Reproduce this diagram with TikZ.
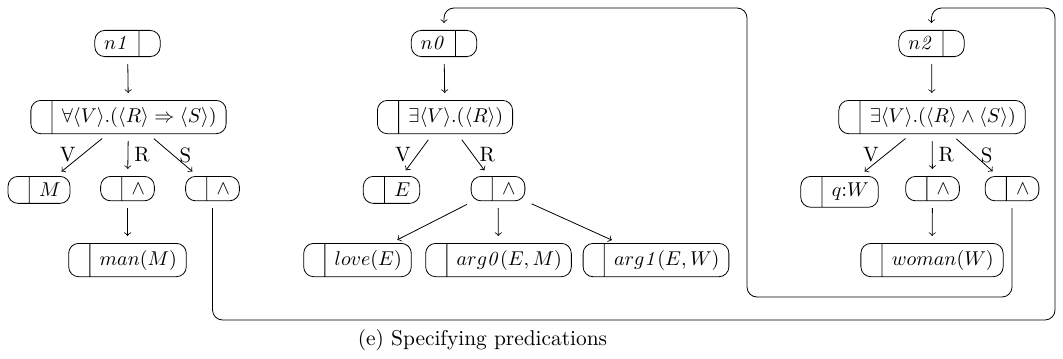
\documentclass[tikz,border=0pt]{standalone}
\usetikzlibrary{shapes.multipart}
\newcommand{\emptypart}{\makebox[1pt]{}}
\tikzset{
  split/.style={draw, rectangle split, rectangle split horizontal, rectangle split parts=2,
    rounded corners=5pt, inner xsep=4.7pt, inner ysep=3.33pt,
    font=\fontsize{10.4pt}{12pt}\selectfont},
  arr/.style={->, shorten <=3.5pt, shorten >=3.5pt},
  loop/.style={->, rounded corners=5pt, shorten <=3.5pt, shorten >=3.5pt},
  lab/.style={inner sep=3pt, font=\fontsize{10.4pt}{12pt}\selectfont}
}
\begin{document}
\begin{tikzpicture}[x=0.5pt,y=-0.5pt]
\useasboundingbox (0,0) rectangle (1063,358);
% left tree
\node[split, anchor=north] (n1) at (127.5,30) {$n\mathit{1}$\nodepart{two}\emptypart};
\node[split, anchor=north] (F1) at (128.5,100) {\emptypart\nodepart{two}$\forall\langle V\rangle.(\langle R\rangle \Rightarrow \langle S\rangle)$};
\node[split, anchor=north] (M) at (39,176) {\emptypart\nodepart{two}$M$};
\node[split, anchor=north] (aR1) at (127.5,176) {\emptypart\nodepart{two}$\wedge$};
\node[split, anchor=north] (aS1) at (212.5,176) {\emptypart\nodepart{two}$\wedge$};
\node[split, anchor=north] (man) at (127.5,243) {\emptypart\nodepart{two}$man(M)$};
\draw[arr] (n1) -- (F1);
\draw[arr] (F1) -- node[midway,left,lab] {V} (M);
\draw[arr] (F1) -- node[midway,right,lab] {R} (aR1);
\draw[arr] (F1) -- node[midway,right,lab] {S} (aS1);
\draw[arr] (aR1) -- (man);
% middle tree
\node[split, anchor=north] (n0) at (444,30) {$n\mathit{0}$\nodepart{two}\emptypart};
\node[split, anchor=north] (F0) at (445,100) {\emptypart\nodepart{two}$\exists\langle V\rangle.(\langle R\rangle)$};
\node[split, anchor=north] (E) at (391.5,176) {\emptypart\nodepart{two}$E$};
\node[split, anchor=north] (aR0) at (498,176) {\emptypart\nodepart{two}$\wedge$};
\node[split, anchor=north] (love) at (357.5,243) {\emptypart\nodepart{two}$love(E)$};
\node[split, anchor=north] (argz) at (498.5,243) {\emptypart\nodepart{two}$arg\mathit{0}(E,M)$};
\node[split, anchor=north] (argo) at (656,243) {\emptypart\nodepart{two}$arg\mathit{1}(E,W)$};
\draw[arr] (n0) -- (F0);
\draw[arr] (F0) -- node[midway,left,lab] {V} (E);
\draw[arr] (F0) -- node[midway,right,lab] {R} (aR0);
\draw[arr] (aR0) -- (love);
\draw[arr] (aR0) -- (argz);
\draw[arr] (aR0) -- (argo);
% right tree
\node[split, anchor=north] (n2) at (931.5,30) {$n\mathit{2}$\nodepart{two}\emptypart};
\node[split, anchor=north] (F2) at (932,100) {\emptypart\nodepart{two}$\exists\langle V\rangle.(\langle R\rangle \wedge \langle S\rangle)$};
\node[split, anchor=north] (qW) at (839.5,176) {\emptypart\nodepart{two}$q$:$W$};
\node[split, anchor=north] (aR2) at (932.5,176) {\emptypart\nodepart{two}$\wedge$};
\node[split, anchor=north] (aS2) at (1012,176) {\emptypart\nodepart{two}$\wedge$};
\node[split, anchor=north] (woman) at (932,243) {\emptypart\nodepart{two}$woman(W)$};
\draw[arr] (n2) -- (F2);
\draw[arr] (F2) -- node[midway,left,lab] {V} (qW);
\draw[arr] (F2) -- node[midway,right,lab] {R} (aR2);
\draw[arr] (F2) -- node[midway,right,lab] {S} (aS2);
\draw[arr] (aR2) -- (woman);
% loops
\coordinate (c1) at (747,297);
\coordinate (c2) at (747,8);
\draw[loop] (aS2.south) -- (aS2.south |- c1) -- (c1) -- (c2) -- (n0.north |- c2) -- (n0.north);
\coordinate (d1) at (1055,320);
\coordinate (d2) at (1055,8);
\draw[loop] (aS1.south) -- (aS1.south |- d1) -- (d1) -- (d2) -- (n2.north |- d2) -- (n2.north);
% caption
\node[font=\fontsize{10.7pt}{13pt}\selectfont] (cap) at (482.5,340) {(e) Specifying predications};
\end{tikzpicture}
\end{document}
